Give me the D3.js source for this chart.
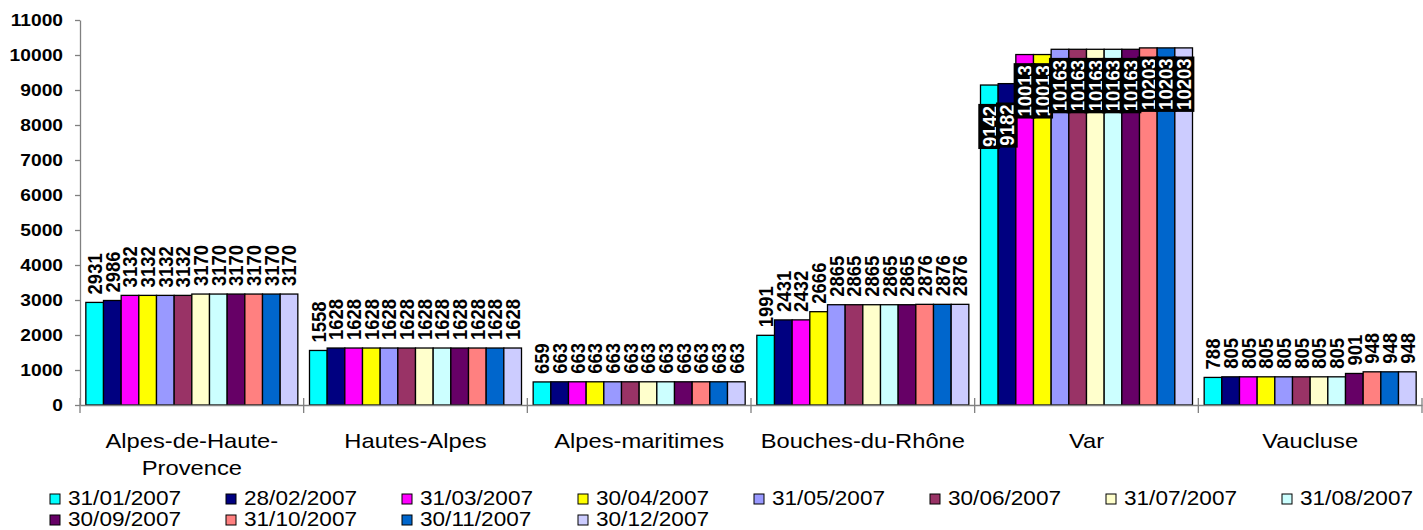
<!DOCTYPE html>
<html><head><meta charset="utf-8">
<script src="https://cdn.jsdelivr.net/npm/d3@7"></script>
<style>body{margin:0;background:#fff}svg{display:block}text{font-family:"Liberation Sans",Arial,sans-serif}</style>
</head><body><svg id="c" width="1423" height="530"></svg>
<script>
const categories = ["Alpes-de-Haute-Provence","Hautes-Alpes","Alpes-maritimes","Bouches-du-Rhône","Var","Vaucluse"];
const seriesNames = ["31/01/2007","28/02/2007","31/03/2007","30/04/2007","31/05/2007","30/06/2007",
                     "31/07/2007","31/08/2007","30/09/2007","31/10/2007","30/11/2007","30/12/2007"];
const s01 = [2931,1558,659,1991,9142,788];
const s02 = [2986,1628,663,2431,9182,805];
const s03 = [3132,1628,663,2432,10013,805];
const s04 = [3132,1628,663,2666,10013,805];
const s05 = [3132,1628,663,2865,10163,805];
const s06 = [3132,1628,663,2865,10163,805];
const s07 = [3170,1628,663,2865,10163,805];
const s08 = [3170,1628,663,2865,10163,805];
const s09 = [3170,1628,663,2865,10163,901];
const s10 = [3170,1628,663,2876,10203,948];
const s11 = [3170,1628,663,2876,10203,948];
const s12 = [3170,1628,663,2876,10203,948];
const seriesValues = [s01,s02,s03,s04,s05,s06,s07,s08,s09,s10,s11,s12];
const colors = ["#00FFFF","#000080","#FF00FF","#FFFF00","#9999FF","#993366",
                "#FFFFCC","#CCFFFF","#660066","#FF8080","#0066CC","#CCCCFF"];
const yTicks = [0,1000,2000,3000,4000,5000,6000,7000,8000,9000,10000,11000];

const SX = 1.13; // horizontal text stretch of the original rendering
const svg = d3.select("#c");
const y = d3.scaleLinear().domain([0,11000]).range([405,20]);
const x0 = d3.scaleBand().domain(categories).range([80,1422]).padding(0);
const x1 = d3.scaleBand().domain(d3.range(seriesNames.length)).range([0,x0.bandwidth()]).paddingInner(0).paddingOuter(0.33);

// bars
const bars = svg.append("g");
seriesValues.forEach((vals,i)=>{
  bars.selectAll(null).data(vals).enter().append("rect")
    .attr("x",(d,j)=>x0(categories[j])+x1(i))
    .attr("y",d=>y(d))
    .attr("width",x1.bandwidth())
    .attr("height",d=>y(0)-y(d))
    .attr("fill",colors[i]).attr("stroke","#000").attr("stroke-width",1.3);
});

// y axis
const gy = svg.append("g").attr("transform","translate(80,0)")
  .call(d3.axisLeft(y).tickValues(yTicks).tickSize(5).tickSizeOuter(0).tickPadding(12).tickFormat(d3.format("d")));
gy.select(".domain").attr("stroke","#808080").attr("stroke-width",1.3);
gy.selectAll(".tick line").attr("stroke","#808080").attr("stroke-width",1.3);
gy.selectAll(".tick text").attr("x",-17/SX).attr("transform",`scale(${SX},1)`)
  .attr("font-size",17).attr("font-weight","bold").attr("fill","#000")
  .attr("font-family",'"Liberation Sans",Arial,sans-serif');

// x axis
const gx = svg.append("g").attr("transform","translate(0,405)")
  .call(d3.axisBottom(x0).tickSize(0).tickSizeOuter(0).tickFormat(""));
gx.select(".domain").attr("stroke","#808080").attr("stroke-width",1.3);
const bounds = categories.map(c=>x0(c)).concat([x0.range()[1]]);
gx.selectAll(null).data(bounds).enter().append("line")
  .attr("x1",d=>d).attr("x2",d=>d).attr("y1",-7).attr("y2",8)
  .attr("stroke","#808080").attr("stroke-width",1.3);

// category labels with wrapping at hyphens
const catFs = 21;
const meas = svg.append("text").attr("font-size",catFs).attr("visibility","hidden");
function w(t){ meas.text(t); return meas.node().getComputedTextLength()*SX; }
categories.forEach(c=>{
  const toks = c.split(/(?<=-)/);
  const lines = []; let cur = "";
  toks.forEach(t=>{
    if(cur && w(cur+t) > x0.bandwidth()-12){ lines.push(cur); cur = t; } else cur += t;
  });
  lines.push(cur);
  const cx = x0(c)+x0.bandwidth()/2;
  lines.forEach((ln,k)=>{
    svg.append("text").attr("transform",`translate(${cx},${448+k*27}) scale(${SX},1)`)
      .attr("text-anchor","middle").attr("font-size",catFs).attr("fill","#000").text(ln);
  });
});
meas.remove();

// value labels
const lblFs = 18.5;
const labels = svg.append("g");
categories.forEach((c,j)=>{
  const mx = d3.max(seriesValues, s=>s[j]);
  const inside = y(mx) - 8 - String(mx).length*0.556*lblFs < 0;
  seriesValues.forEach((vals,i)=>{
    const v = vals[j];
    const cx = x0(c)+x1(i)+x1.bandwidth()/2;
    const ty = inside ? y(v)+62 : y(v)-8;
    const g = labels.append("g").attr("transform",`translate(${cx},${ty}) scale(${SX},1) rotate(-90)`);
    const t = g.append("text").attr("dy","0.35em").attr("font-size",lblFs).attr("font-weight","bold")
      .attr("fill", inside ? "#fff" : "#000").text(v);
    if(inside){
      const len = t.node().getComputedTextLength();
      g.insert("rect","text").attr("x",-2).attr("width",len+4)
        .attr("y",-0.366*lblFs-3).attr("height",0.716*lblFs+6).attr("fill","#000");
    }
  });
});

// legend
const lg = svg.append("g");
seriesNames.forEach((n,i)=>{
  const col = i%8, row = Math.floor(i/8);
  const mx = 50+col*176, my = 494+row*21;
  lg.append("rect").attr("x",mx).attr("y",my).attr("width",10).attr("height",10)
    .attr("fill",colors[i]).attr("stroke","#000").attr("stroke-width",1);
  lg.append("text").attr("transform",`translate(${mx+18},${my+10.5}) scale(${SX},1)`)
    .attr("font-size",20).attr("fill","#000").text(n);
});
</script></body></html>
